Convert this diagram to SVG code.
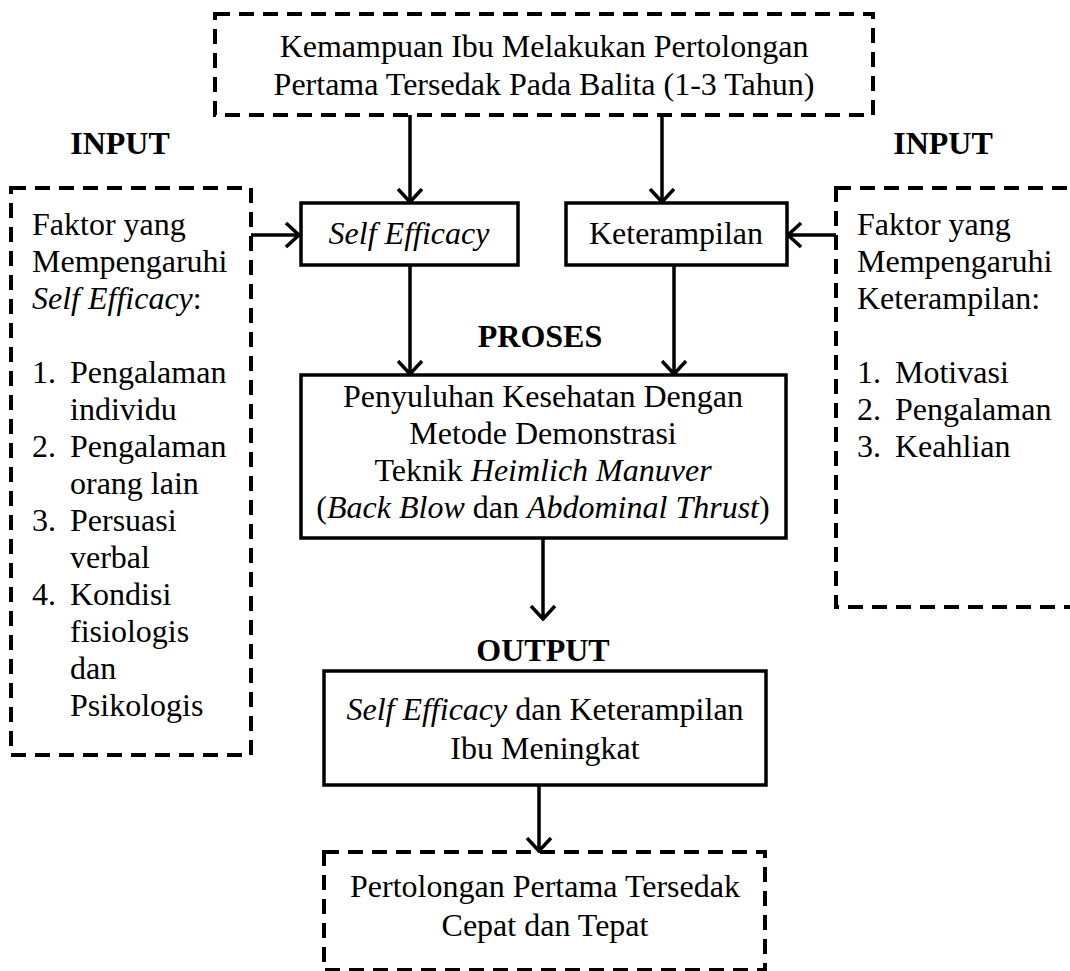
<svg xmlns="http://www.w3.org/2000/svg" width="1070" height="971" viewBox="0 0 1070 971">
<style>
text{font-family:"Liberation Serif","Times New Roman",serif;font-size:32px;fill:#000}
.c{text-anchor:middle}
.b{font-weight:bold}
.i{font-style:italic}
.dash{fill:none;stroke:#000;stroke-width:4;stroke-dasharray:15 9}
.box{fill:#fff;stroke:#000;stroke-width:3.5}
.con line{stroke:#000;stroke-width:3.5;marker-end:url(#ah)}
</style>
<defs>
<marker id="ah" viewBox="0 0 16 28" refX="14" refY="14" markerWidth="16" markerHeight="28" markerUnits="userSpaceOnUse" orient="auto">
<path d="M1,2 L14,14 L1,26" fill="none" stroke="#000" stroke-width="3.5"/>
</marker>
</defs>
<rect width="1070" height="971" fill="#fff"/>

<g id="connectors" class="con">
<line x1="410" y1="115" x2="410" y2="202"/>
<line x1="662" y1="115" x2="662" y2="202"/>
<line x1="251" y1="235" x2="299" y2="235"/>
<line x1="836" y1="235" x2="788" y2="235"/>
<line x1="410" y1="265" x2="410" y2="374"/>
<line x1="674" y1="265" x2="674" y2="374"/>
<line x1="543" y1="538" x2="543" y2="619"/>
<line x1="539" y1="785" x2="539" y2="851"/>
</g>

<g id="top">
<rect class="dash" x="215" y="14" width="658" height="101"/>
<text class="c" x="544" y="57">Kemampuan Ibu Melakukan Pertolongan</text>
<text class="c" x="544" y="95">Pertama Tersedak Pada Balita (1-3 Tahun)</text>
</g>

<g id="labels">
<text class="c b" x="120" y="154">INPUT</text>
<text class="c b" x="943" y="154">INPUT</text>
<text class="c b" x="540" y="347">PROSES</text>
<text class="c b" x="543" y="661">OUTPUT</text>
</g>

<g id="left-factors">
<rect class="dash" x="11" y="188" width="240" height="567"/>
<text x="32" y="235">Faktor yang</text>
<text x="32" y="272">Mempengaruhi</text>
<text x="32" y="309"><tspan class="i">Self Efficacy</tspan>:</text>
<text x="32" y="383">1.</text><text x="70" y="383">Pengalaman</text>
<text x="70" y="420">individu</text>
<text x="32" y="457">2.</text><text x="70" y="457">Pengalaman</text>
<text x="70" y="494">orang lain</text>
<text x="32" y="531">3.</text><text x="70" y="531">Persuasi</text>
<text x="70" y="568">verbal</text>
<text x="32" y="605">4.</text><text x="70" y="605">Kondisi</text>
<text x="70" y="642">fisiologis</text>
<text x="70" y="679">dan</text>
<text x="70" y="716">Psikologis</text>
</g>

<g id="right-factors">
<rect class="dash" x="836" y="188" width="260" height="419"/>
<text x="857" y="235">Faktor yang</text>
<text x="857" y="272">Mempengaruhi</text>
<text x="857" y="309">Keterampilan:</text>
<text x="857" y="383">1.</text><text x="895" y="383">Motivasi</text>
<text x="857" y="420">2.</text><text x="895" y="420">Pengalaman</text>
<text x="857" y="457">3.</text><text x="895" y="457">Keahlian</text>
</g>

<g id="self-efficacy">
<rect class="box" x="301" y="203" width="217" height="62"/>
<text class="c i" x="409" y="244">Self Efficacy</text>
</g>

<g id="keterampilan">
<rect class="box" x="566" y="203" width="221" height="62"/>
<text class="c" x="676" y="244">Keterampilan</text>
</g>

<g id="proses">
<rect class="box" x="301" y="375" width="485" height="163"/>
<text class="c" x="543" y="407">Penyuluhan Kesehatan Dengan</text>
<text class="c" x="543" y="444">Metode Demonstrasi</text>
<text class="c" x="543" y="481">Teknik <tspan class="i">Heimlich Manuver</tspan></text>
<text class="c" x="543" y="518">(<tspan class="i">Back Blow</tspan> dan <tspan class="i">Abdominal Thrust</tspan>)</text>
</g>

<g id="output">
<rect class="box" x="324" y="671" width="442" height="114"/>
<text class="c" x="545" y="720"><tspan class="i">Self Efficacy</tspan> dan Keterampilan</text>
<text class="c" x="545" y="759">Ibu Meningkat</text>
</g>

<g id="result">
<rect class="dash" x="324" y="852" width="441" height="118"/>
<text class="c" x="545" y="897">Pertolongan Pertama Tersedak</text>
<text class="c" x="545" y="936">Cepat dan Tepat</text>
</g>
</svg>
